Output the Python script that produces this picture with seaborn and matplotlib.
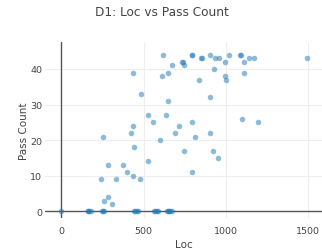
import matplotlib
matplotlib.use("Agg")
import matplotlib.pyplot as plt
import seaborn as sns
import pandas as pd

loc = [0, 160, 165, 170, 178, 249, 255, 261, 441, 450, 458, 463,
       561, 570, 580, 587, 640, 648, 655, 663, 670,
       255, 281, 243, 259, 285, 308, 332, 372, 399, 433, 476, 441, 425, 433,
       435, 484, 526, 526, 554, 599, 615, 613, 645, 672, 649, 633, 690, 714,
       730, 737, 745, 791, 795, 848, 852, 904, 931, 957, 991, 1016, 1088, 1094,
       1109, 1139, 1173, 1489, 925, 834, 995, 999, 1109, 904, 1096, 1194, 791,
       811, 904, 745, 923, 951, 791]
pass_count = [0, 0, 0, 0, 0, 0, 0, 0, 0, 0, 0, 0,
              0, 0, 0, 0, 0, 0, 0, 0, 0,
              21, 13, 9, 3, 4, 2, 9, 13, 11, 10, 9, 18, 22, 24,
              39, 33, 14, 27, 25, 20, 44, 38, 39, 41, 31, 27, 22, 24,
              42, 42, 41, 44, 44, 43, 43, 44, 43, 43, 42, 44, 44, 44,
              42, 43, 43, 43, 40, 37, 38, 37, 39, 32, 26, 25, 25,
              21, 22, 17, 17, 15, 11]

df = pd.DataFrame({"Loc": loc, "Pass Count": pass_count})

sns.set_style("white")
plt.rcParams['font.family'] = ['DejaVu Sans']
txt = '#444444'

fig = plt.figure(figsize=(3.22, 2.53), dpi=100)
ax = fig.add_axes([45/322, (253-219)/253, 277/322, (219-43.3)/253])

ax.set_xlim(-99, 1583)
ax.set_ylim(-1.9, 47.5)
ax.set_xticks([0, 500, 1000, 1500])
ax.set_yticks([0, 10, 20, 30, 40])
ax.grid(True, color='#eeeeee', linewidth=0.8)
ax.set_axisbelow(True)
ax.axhline(0, color='#555555', linewidth=1.0, zorder=1)
ax.axvline(0, color='#555555', linewidth=1.0, zorder=1)
for s in ax.spines.values():
    s.set_visible(False)

sns.scatterplot(data=df, x="Loc", y="Pass Count", ax=ax, color='#1f77b4',
                alpha=0.5, s=16, linewidth=0, zorder=3)

ax.tick_params(axis='x', length=0, labelsize=6.8, colors=txt, pad=6)
ax.tick_params(axis='y', length=0, labelsize=6.8, colors=txt, pad=2)
ax.set_xlabel("Loc", fontsize=7.5, color=txt, labelpad=3)
ax.set_ylabel("Pass Count", fontsize=7.5, color=txt, labelpad=1)
fig.text(0.503, 0.952, "D1: Loc vs Pass Count", ha='center', va='center',
         fontsize=8.7, color=txt)

fig.savefig("out.png", dpi=100)
